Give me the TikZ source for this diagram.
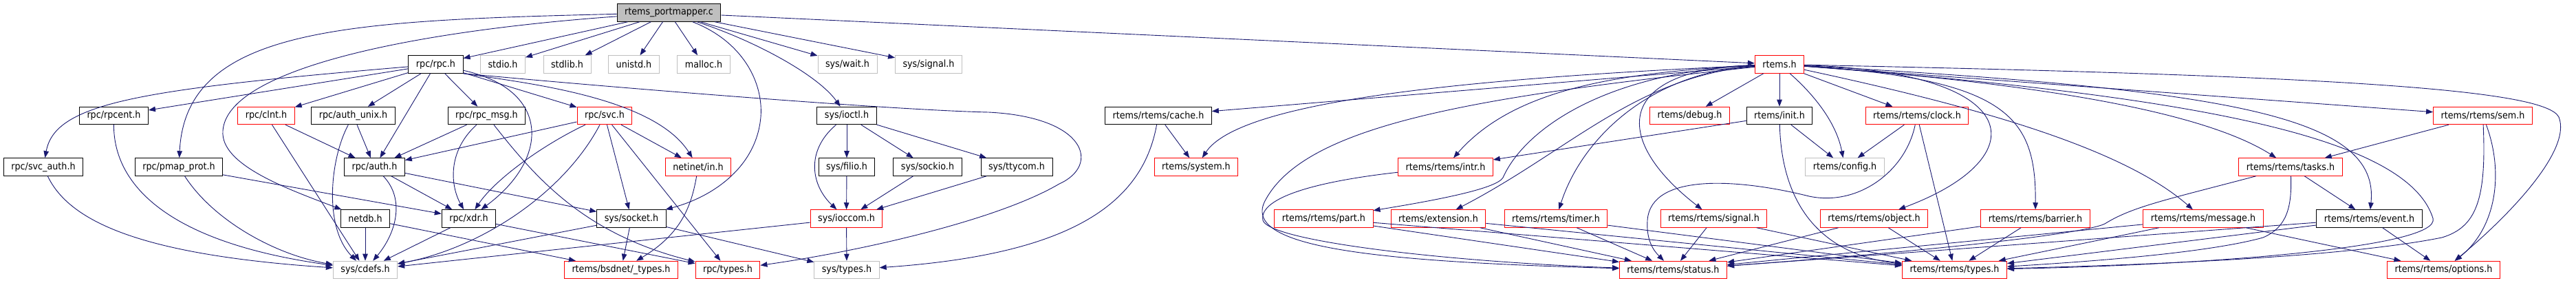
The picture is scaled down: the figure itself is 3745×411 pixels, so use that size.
\documentclass[tikz,border=0pt]{standalone}
\usepackage{fontspec}
\setmainfont{DejaVu Sans}[FakeStretch=0.91]
\usetikzlibrary{arrows.meta}
\definecolor{edgeblue}{HTML}{191970}
\definecolor{nodocgray}{HTML}{BFBFBF}
\tikzset{
  hfile/.style={draw=black, line width=1pt, minimum height=25.5pt, inner xsep=11pt, inner ysep=0pt,
    font=\fontsize{14}{16}\selectfont},
  hroot/.style={hfile, fill=nodocgray},
  htrunc/.style={hfile, draw=red},
  hnodoc/.style={hfile, draw=nodocgray},
  dep/.style={draw=edgeblue, line width=0.9pt, -{Triangle[length=10pt,width=7.5pt]}, fill=none},
}
\begin{document}
\begin{tikzpicture}[x=1pt,y=-1pt]
\useasboundingbox (0,0) rectangle (3745,411);
% top file
\node[hroot] (pm) at (972.5,18.5){rtems\_portmapper.c};
% direct includes
\node[hfile] (rpc) at (633.5,93.5){rpc/rpc.h};
\node[hnodoc] (stdio) at (731,93.5){stdio.h};
\node[hnodoc] (stdlib) at (824.5,93.5){stdlib.h};
\node[hnodoc] (unistd) at (921.5,93.5){unistd.h};
\node[hnodoc] (malloc) at (1023,93.5){malloc.h};
\node[hnodoc] (syswait) at (1232,93.5){sys/wait.h};
\node[hnodoc] (syssignal) at (1350,93.5){sys/signal.h};
\node[htrunc] (rtems) at (2587,93.5){rtems.h};
% rpc side
\node[hfile] (rpcent) at (165.5,168){rpc/rpcent.h};
\node[htrunc] (clnt) at (387,168){rpc/clnt.h};
\node[hfile] (authunix) at (513.5,168){rpc/auth\_unix.h};
\node[hfile] (rpcmsg) at (707.5,168){rpc/rpc\_msg.h};
\node[htrunc] (svc) at (879,168){rpc/svc.h};
\node[hfile] (ioctl) at (1231,168){sys/ioctl.h};
\node[hfile] (svcauth) at (63,242.5){rpc/svc\_auth.h};
\node[hfile] (pmap) at (260,242.5){rpc/pmap\_prot.h};
\node[hfile] (auth) at (544.5,242.5){rpc/auth.h};
\node[htrunc] (netin) at (1015,242.5){netinet/in.h};
\node[hfile] (filio) at (1231,242.5){sys/filio.h};
\node[hfile] (sockio) at (1348.5,242.5){sys/sockio.h};
\node[hfile] (ttycom) at (1478,242.5){sys/ttycom.h};
\node[hfile] (netdb) at (531,317.5){netdb.h};
\node[hfile] (xdr) at (681.5,317.5){rpc/xdr.h};
\node[hfile] (socket) at (918,317.5){sys/socket.h};
\node[htrunc] (ioccom) at (1230.5,317.5){sys/ioccom.h};
\node[hnodoc] (cdefs) at (531,392){sys/cdefs.h};
\node[htrunc] (bsdtypes) at (903,392){rtems/bsdnet/\_types.h};
\node[htrunc] (rpctypes) at (1058,392){rpc/types.h};
\node[hnodoc] (systypes) at (1231,392){sys/types.h};
% rtems side
\node[hfile] (cache) at (1684,168){rtems/rtems/cache.h};
\node[htrunc] (debug) at (2456.5,168){rtems/debug.h};
\node[hfile] (init) at (2587,168){rtems/init.h};
\node[htrunc] (clock) at (2787,168){rtems/rtems/clock.h};
\node[htrunc] (sem) at (3609.5,168){rtems/rtems/sem.h};
\node[htrunc] (system) at (1739,242.5){rtems/system.h};
\node[htrunc] (intr) at (2101.5,242.5){rtems/rtems/intr.h};
\node[hnodoc] (config) at (2682,242.5){rtems/config.h};
\node[htrunc] (tasks) at (3330,242.5){rtems/rtems/tasks.h};
\node[htrunc] (part) at (1924.5,317.5){rtems/rtems/part.h};
\node[htrunc] (extension) at (2091,317.5){rtems/extension.h};
\node[htrunc] (timer) at (2262,317.5){rtems/rtems/timer.h};
\node[htrunc] (signal) at (2491.5,317.5){rtems/rtems/signal.h};
\node[htrunc] (object) at (2724.5,317.5){rtems/rtems/object.h};
\node[htrunc] (barrier) at (2959,317.5){rtems/rtems/barrier.h};
\node[htrunc] (message) at (3203,317.5){rtems/rtems/message.h};
\node[hfile] (event) at (3444.5,317.5){rtems/rtems/event.h};
\node[htrunc] (status) at (2432.5,392){rtems/rtems/status.h};
\node[htrunc] (types) at (2841.5,392){rtems/rtems/types.h};
\node[htrunc] (options) at (3552.5,392){rtems/rtems/options.h};
% edges of rtems_portmapper.c
\draw[dep] (pm) -- (rpc);
\draw[dep] (pm) -- (stdio);
\draw[dep] (pm) -- (stdlib);
\draw[dep] (pm) -- (unistd);
\draw[dep] (pm) -- (malloc);
\draw[dep] (pm) -- (syswait);
\draw[dep] (pm) -- (syssignal);
\draw[dep] (pm) -- (rtems);
\draw[dep] (pm) .. controls (500,30) and (270,40) .. (pmap);
\draw[dep] (pm) .. controls (600,45) and (330,100) .. (324,190) .. controls (320,240) and (420,275) .. (netdb);
\draw[dep] (pm) .. controls (1080,60) and (1110,120) .. (1106,170) .. controls (1100,240) and (1040,285) .. (socket);
\draw[dep] (pm) .. controls (1100,60) and (1190,110) .. (ioctl);
% rpc/rpc.h
\draw[dep] (rpc) .. controls (200,130) and (80,150) .. (svcauth);
\draw[dep] (rpc) -- (rpcent);
\draw[dep] (rpc) -- (clnt);
\draw[dep] (rpc) -- (authunix);
\draw[dep] (rpc) -- (auth);
\draw[dep] (rpc) -- (rpcmsg);
\draw[dep] (rpc) -- (svc);
\draw[dep] (rpc.south east) .. controls (760,120) and (950,140) .. (netin);
\draw[dep] (rpc) .. controls (800,130) and (800,230) .. (xdr);
\draw[dep] (rpc.south east) .. controls (900,128) and (1300,160) .. (1437,163) .. controls (1580,170) and (1600,240) .. (1540,267) .. controls (1450,320) and (1250,365) .. (rpctypes);
\draw[dep] (rpcent) .. controls (165,260) and (230,350) .. (cdefs);
\draw[dep] (svcauth) .. controls (100,320) and (200,370) .. (cdefs);
\draw[dep] (pmap) .. controls (310,320) and (400,370) .. (cdefs);
\draw[dep] (pmap) -- (xdr);
\draw[dep] (clnt) -- (auth);
\draw[dep] (clnt) -- (cdefs);
\draw[dep] (authunix) -- (auth);
\draw[dep] (authunix) .. controls (480,230) and (470,330) .. (cdefs);
\draw[dep] (auth) .. controls (590,290) and (575,340) .. (cdefs);
\draw[dep] (auth) -- (xdr);
\draw[dep] (auth) -- (socket);
\draw[dep] (netdb) -- (cdefs);
\draw[dep] (netdb) -- (bsdtypes);
\draw[dep] (rpcmsg) -- (auth);
\draw[dep] (rpcmsg) .. controls (650,220) and (655,270) .. (xdr);
\draw[dep] (rpcmsg) .. controls (780,260) and (850,340) .. (rpctypes);
\draw[dep] (svc) -- (auth);
\draw[dep] (svc) .. controls (790,210) and (720,260) .. (xdr);
\draw[dep] (svc) .. controls (820,280) and (700,360) .. (cdefs);
\draw[dep] (svc) -- (socket);
\draw[dep] (svc) -- (rpctypes);
\draw[dep] (svc) -- (netin);
\draw[dep] (netin) .. controls (1005,300) and (990,340) .. (bsdtypes);
\draw[dep] (xdr) -- (cdefs);
\draw[dep] (xdr) -- (rpctypes);
\draw[dep] (socket) -- (cdefs);
\draw[dep] (socket) -- (bsdtypes);
\draw[dep] (socket) -- (systypes);
% sys/ioctl.h
\draw[dep] (ioctl) -- (filio);
\draw[dep] (ioctl) -- (sockio);
\draw[dep] (ioctl) -- (ttycom);
\draw[dep] (ioctl) .. controls (1170,220) and (1180,270) .. (ioccom);
\draw[dep] (filio) -- (ioccom);
\draw[dep] (sockio) -- (ioccom);
\draw[dep] (ttycom) -- (ioccom);
\draw[dep] (ioccom) -- (systypes);
\draw[dep] (ioccom) -- (cdefs);
% rtems.h
\draw[dep] (rtems) -- (cache);
\draw[dep] (rtems) .. controls (2100,115) and (1800,150) .. (system);
\draw[dep] (rtems) .. controls (2350,105) and (2200,130) .. (intr);
\draw[dep] (rtems) .. controls (2150,140) and (1900,180) .. (1840,290) .. controls (1800,360) and (2000,380) .. (status);
\draw[dep] (rtems) .. controls (2330,105) and (2215,190) .. (2185,258) .. controls (2175,275) and (2080,292) .. (part);
\draw[dep] (rtems) .. controls (2380,110) and (2280,220) .. (extension);
\draw[dep] (rtems) .. controls (2400,105) and (2300,200) .. (timer);
\draw[dep] (rtems) .. controls (2350,100) and (2340,200) .. (signal);
\draw[dep] (rtems) -- (debug);
\draw[dep] (rtems) -- (init);
\draw[dep] (rtems) .. controls (2640,140) and (2670,180) .. (config);
\draw[dep] (rtems) -- (clock);
\draw[dep] (rtems) .. controls (2950,105) and (2960,230) .. (object);
\draw[dep] (rtems) .. controls (2920,115) and (2960,170) .. (barrier);
\draw[dep] (rtems) .. controls (2850,150) and (3080,210) .. (message);
\draw[dep] (rtems) .. controls (2950,120) and (3200,160) .. (tasks);
\draw[dep] (rtems) .. controls (3250,130) and (3460,170) .. (event);
\draw[dep] (rtems) .. controls (3200,140) and (3500,200) .. (3537,317) .. controls (3550,360) and (3200,385) .. (types);
\draw[dep] (rtems) -- (sem);
\draw[dep] (rtems) .. controls (3400,110) and (3700,130) .. (3720,170) .. controls (3740,220) and (3640,320) .. (options);
\draw[dep] (cache) -- (system);
\draw[dep] (cache) .. controls (1660,300) and (1550,370) .. (systypes);
\draw[dep] (init) -- (intr);
\draw[dep] (init) -- (config);
\draw[dep] (init) .. controls (2590,300) and (2650,370) .. (types);
\draw[dep] (clock) -- (config);
\draw[dep] (clock) -- (types);
\draw[dep] (clock) .. controls (2770,250) and (2700,300) .. (2630,285) .. controls (2530,260) and (2400,250) .. (2395,320) .. controls (2393,350) and (2405,365) .. (status);
\draw[dep] (intr) .. controls (1900,265) and (1830,290) .. (1836,320) .. controls (1845,350) and (2100,380) .. (status);
\draw[dep] (part) -- (status);
\draw[dep] (part) -- (types);
\draw[dep] (extension) -- (status);
\draw[dep] (extension) -- (types);
\draw[dep] (timer) -- (status);
\draw[dep] (timer) -- (types);
\draw[dep] (signal) -- (status);
\draw[dep] (signal) -- (types);
\draw[dep] (object) -- (status);
\draw[dep] (object) -- (types);
\draw[dep] (barrier) -- (status);
\draw[dep] (barrier) -- (types);
\draw[dep] (message) -- (status);
\draw[dep] (message) -- (types);
\draw[dep] (message) -- (options);
\draw[dep] (event) -- (status);
\draw[dep] (event) -- (types);
\draw[dep] (event) -- (options);
\draw[dep] (tasks) .. controls (3150,290) and (3100,300) .. (3060,325) .. controls (3030,340) and (2800,365) .. (status);
\draw[dep] (tasks) .. controls (3332,300) and (3325,330) .. (3290,345) .. controls (3200,370) and (3000,382) .. (types);
\draw[dep] (tasks) -- (event);
\draw[dep] (sem) -- (tasks);
\draw[dep] (sem) .. controls (3640,250) and (3630,330) .. (options);
\draw[dep] (sem) .. controls (3615,290) and (3600,330) .. (3550,345) .. controls (3400,375) and (3100,385) .. (types);
\end{tikzpicture}
\end{document}
